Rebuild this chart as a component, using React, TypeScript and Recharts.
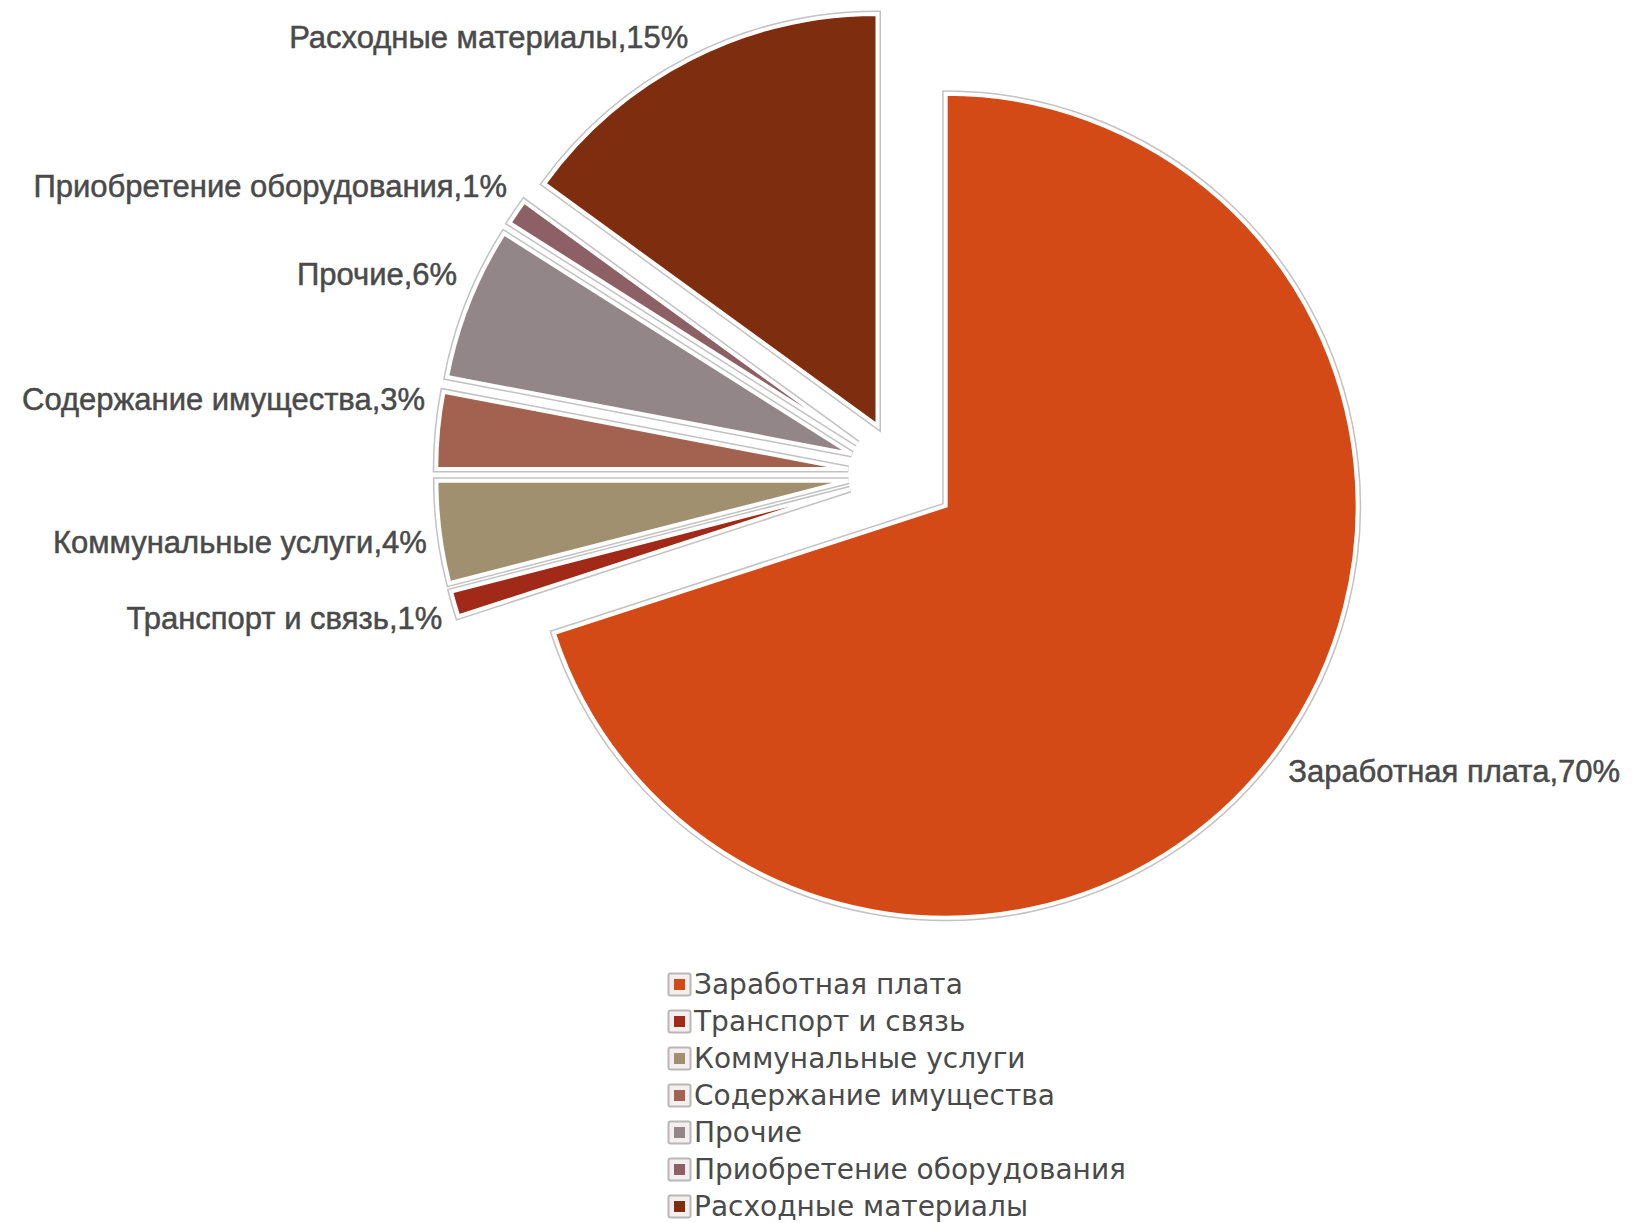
import React from 'react';
import { PieChart, Pie, Cell, Sector, Legend } from 'recharts';

const categories = [
  'Заработная плата',
  'Транспорт и связь',
  'Коммунальные услуги',
  'Содержание имущества',
  'Прочие',
  'Приобретение оборудования',
  'Расходные материалы',
];
const shares = [70, 1, 4, 3, 6, 1, 15];
const colors = ['#D44A17', '#A02A17', '#A09070', '#A2624F', '#928688', '#8D5F66', '#7E2D0F'];

const data = categories.map((name, i) => ({ name, value: shares[i] }));

const EXPLODE = 54;
const RAD = Math.PI / 180;
const FONT = '"Liberation Sans", Arial, sans-serif';
const LEGEND_FONT = '"DejaVu Sans", Verdana, sans-serif';

const ExplodedSector = (props: any) => {
  const { cx, cy, midAngle, innerRadius, outerRadius, startAngle, endAngle, fill } = props;
  const dx = EXPLODE * Math.cos(-midAngle * RAD);
  const dy = EXPLODE * Math.sin(-midAngle * RAD);
  const common = {
    cx: cx + dx,
    cy: cy + dy,
    innerRadius,
    outerRadius,
    startAngle,
    endAngle,
    fill,
  };
  return (
    <g>
      <Sector {...common} stroke="#c2c2c2" strokeWidth={7} />
      <Sector {...common} stroke="#ffffff" strokeWidth={4} />
    </g>
  );
};

const renderLabel = (props: any) => {
  const { cx, cy, midAngle, outerRadius, name, percent } = props;
  const dirX = Math.cos(-midAngle * RAD);
  const dirY = Math.sin(-midAngle * RAD);
  const r = EXPLODE + outerRadius + 20;
  const px = cx + r * dirX;
  const py = cy + r * dirY;
  const left = dirX < 0;
  const x = px + (left ? 7 : -7);
  const y = py + (dirY < 0 ? -32 * (1 - Math.abs(dirY)) : 6 + 10 * dirY);
  return (
    <text
      x={x}
      y={y}
      textAnchor={left ? 'end' : 'start'}
      dominantBaseline="central"
      fill="#4a4a4a"
      stroke="#4a4a4a"
      strokeWidth={0.5}
      fontSize={31}
      fontFamily={FONT}
    >
      {`${name},${Math.round(percent * 100)}%`}
    </text>
  );
};

const renderLegend = (props: any) => {
  const payload = [...(props.payload || [])].sort(
    (a: any, b: any) => categories.indexOf(a.value) - categories.indexOf(b.value)
  );
  return (
    <div style={{ fontFamily: LEGEND_FONT }}>
      {payload.map((entry: any, i: number) => (
        <div
          key={i}
          style={{ display: 'flex', alignItems: 'center', height: 37, fontSize: 28, color: '#4a4a4a', whiteSpace: 'nowrap' }}
        >
          <svg width={25} height={25} style={{ marginRight: 2, flex: 'none' }}>
            <rect x={1.5} y={1.5} width={22} height={22} fill="#f4eeee" stroke="#b8b8b8" strokeWidth={2} rx={2} />
            <rect x={7} y={7} width={11} height={11} fill={entry.color} />
          </svg>
          <span>{entry.value}</span>
        </div>
      ))}
    </div>
  );
};

export default function App() {
  return (
    <div style={{ position: 'absolute', left: 0, top: 0, width: 1639, height: 1223, background: '#fff' }}>
      <PieChart width={1639} height={1223} margin={{ top: 0, right: 0, bottom: 0, left: 0 }}>
        <Pie
          data={data}
          dataKey="value"
          nameKey="name"
          cx={902}
          cy={474}
          outerRadius={412}
          startAngle={90}
          endAngle={-270}
          isAnimationActive={false}
          shape={ExplodedSector}
          label={renderLabel}
          labelLine={false}
        >
          {data.map((d, i) => (
            <Cell key={d.name} fill={colors[i]} />
          ))}
        </Pie>
        <Legend
          layout="horizontal"
          verticalAlign="bottom"
          align="center"
          content={renderLegend}
          wrapperStyle={{ position: 'absolute', left: 667, top: 966, bottom: 'auto', width: 560 }}
        />
      </PieChart>
    </div>
  );
}
